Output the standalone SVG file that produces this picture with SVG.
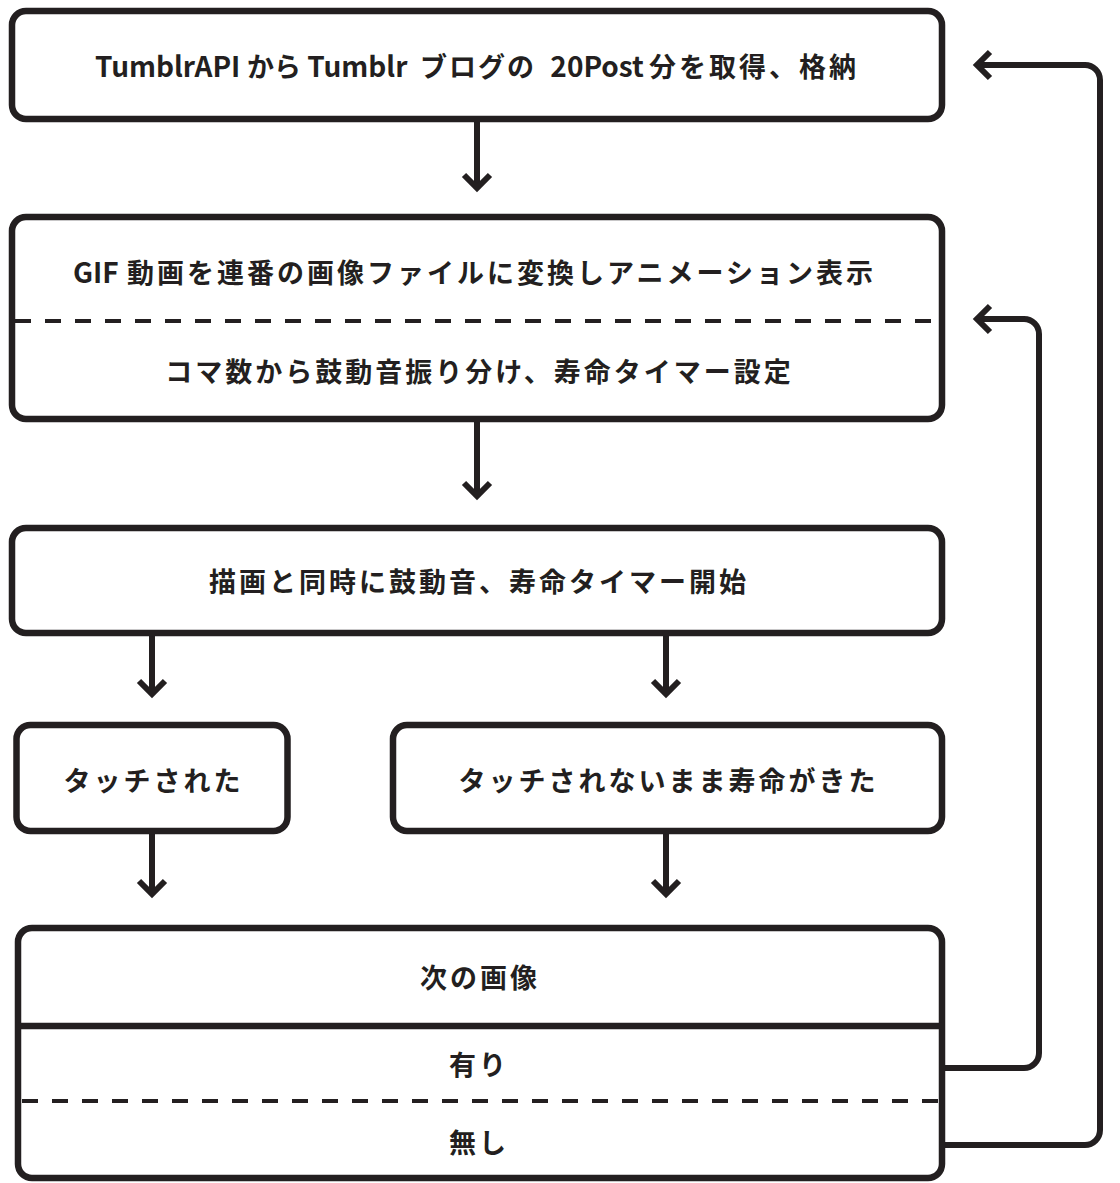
<svg xmlns="http://www.w3.org/2000/svg" width="1120" height="1183" viewBox="0 0 1120 1183">
<style>
  .box { fill: #ffffff; stroke: #231f20; stroke-width: 6.5; }
  .div { stroke: #231f20; stroke-width: 6.5; fill: none; }
  .dash { stroke: #231f20; stroke-width: 4; stroke-dasharray: 16 14; fill: none; }
  .conn { stroke: #231f20; stroke-width: 6; fill: none; stroke-linejoin: round; }
  .lbl { font-family: "Noto Sans CJK JP", "Noto Sans", sans-serif; font-size: 27px; font-weight: bold; fill: #231f20; text-anchor: middle; dominant-baseline: central; letter-spacing: 3px; }
  .start { text-anchor: start; }
  .lat { font-size: 28px; letter-spacing: 0px; }
</style>
<defs>
  <marker id="chev" markerUnits="userSpaceOnUse" viewBox="-20 -20 40 40" markerWidth="40" markerHeight="40" refX="0" refY="0" orient="auto" overflow="visible">
    <path d="M -13 -13 L 0 0 L -13 13" fill="none" stroke="#231f20" stroke-width="6" stroke-linejoin="miter"/>
  </marker>
</defs>
<rect width="1120" height="1183" fill="#ffffff"/>

<g id="connectors">
  <path class="conn" d="M477 122 V188" marker-end="url(#chev)"/>
  <path class="conn" d="M477 422 V496" marker-end="url(#chev)"/>
  <path class="conn" d="M152 636 V694" marker-end="url(#chev)"/>
  <path class="conn" d="M666 636 V694" marker-end="url(#chev)"/>
  <path class="conn" d="M152 834 V894" marker-end="url(#chev)"/>
  <path class="conn" d="M666 834 V894" marker-end="url(#chev)"/>
  <path class="conn" d="M942 1068 H1024 A15 15 0 0 0 1039 1053 V334 A15 15 0 0 0 1024 319 H977" marker-end="url(#chev)"/>
  <path class="conn" d="M942 1145 H1085 A15 15 0 0 0 1100 1130 V80 A15 15 0 0 0 1085 65 H977" marker-end="url(#chev)"/>
</g>

<g id="node-fetch">
  <rect class="box" x="12" y="11" width="930" height="108" rx="14"/>
  <text class="lbl start" y="65"><tspan class="lat" x="95">TumblrAPI </tspan><tspan x="247" letter-spacing="0">から</tspan><tspan class="lat" x="301"> Tumblr </tspan><tspan x="420" letter-spacing="2">ブログの</tspan><tspan class="lat" x="544"> 20Post </tspan><tspan x="649">分を取得、格納</tspan></text>
</g>

<g id="node-convert">
  <rect class="box" x="12" y="217" width="930" height="202" rx="14"/>
  <line class="dash" x1="15" y1="321" x2="939" y2="321"/>
  <text class="lbl start" y="270.5"><tspan class="lat" x="73">GIF </tspan><tspan x="127">動画を連番の画像ファイルに変換しアニメーション表示</tspan></text>
  <text class="lbl" x="479.5" y="370.5">コマ数から鼓動音振り分け、寿命タイマー設定</text>
</g>

<g id="node-draw">
  <rect class="box" x="12" y="528" width="930" height="105" rx="14"/>
  <text class="lbl" x="479" y="580">描画と同時に鼓動音、寿命タイマー開始</text>
</g>

<g id="node-touched">
  <rect class="box" x="16.5" y="725" width="271" height="106" rx="14"/>
  <text class="lbl" x="153.5" y="779">タッチされた</text>
</g>

<g id="node-expired">
  <rect class="box" x="393" y="725" width="549" height="106" rx="14"/>
  <text class="lbl" x="668.5" y="779">タッチされないまま寿命がきた</text>
</g>

<g id="node-next">
  <rect class="box" x="18" y="928" width="924" height="250" rx="14"/>
  <line class="div" x1="18" y1="1026" x2="942" y2="1026"/>
  <line class="dash" x1="22" y1="1101" x2="939" y2="1101"/>
  <text class="lbl" x="480" y="976.5">次の画像</text>
  <text class="lbl" x="479" y="1063.5">有り</text>
  <text class="lbl" x="479" y="1141.5">無し</text>
</g>
</svg>
